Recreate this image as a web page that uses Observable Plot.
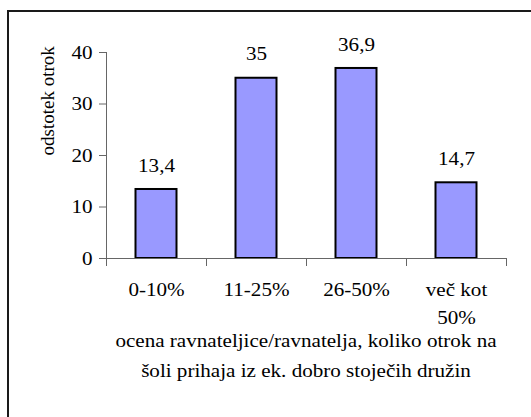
<!DOCTYPE html>
<html><head><meta charset="utf-8">
<script src="https://cdn.jsdelivr.net/npm/d3@7"></script>
<script src="https://cdn.jsdelivr.net/npm/@observablehq/plot@0.6"></script>
<style>
body{margin:0;background:#fff;}
#wrap{position:relative;width:531px;height:417px;overflow:hidden;font-family:'Liberation Serif',serif;}
#chart{position:absolute;left:0;top:0;}
#frame{position:absolute;left:7px;top:10px;width:600px;height:500px;border:2px solid #1a1a1a;box-sizing:border-box;}
#caption{position:absolute;left:56px;width:500px;top:326px;text-align:center;font-family:'Liberation Serif',serif;font-size:19px;line-height:30px;color:#000;transform:scaleX(1.11);transform-origin:250px 0;white-space:nowrap;}
</style></head>
<body><div id="wrap"><div id="chart"></div><div id="caption"></div><div id="frame"></div></div>
<script>
const categories = ["0-10%", "11-25%", "26-50%", "več kot\n50%"];
const values = [13.4, 35, 36.9, 14.7];
const valueLabels = ["13,4", "35", "36,9", "14,7"];
const yTicks = [0, 10, 20, 30, 40];
const yLabel = "odstotek otrok";
const xTitleLines = ["ocena ravnateljice/ravnatelja, koliko otrok na", "šoli prihaja iz ek. dobro stoječih družin"];

const data = categories.map((c, i) => ({i, c, v: values[i], lab: valueLabels[i]}));
const boundaries = d3.range(categories.length + 1);

const chart = Plot.plot({
  width: 531,
  height: 345,
  marginTop: 52,
  marginBottom: 87,
  marginLeft: 106,
  marginRight: 25,
  style: {fontFamily: "'Liberation Serif', serif", fontSize: "19px", color: "#000", background: "transparent"},
  x: {type: "linear", domain: [0, categories.length], axis: null},
  y: {domain: [0, 40], axis: null},
  marks: [
    Plot.rect(data, {x1: "i", x2: d => d.i + 1, y1: () => 0, y2: "v", insetLeft: 29.5, insetRight: 29.5, fill: "#9999ff", stroke: "#000", strokeWidth: 2}),
    Plot.ruleY([0], {stroke: "#666"}),
    Plot.ruleX([0], {stroke: "#666"}),
    Plot.axisY({ticks: yTicks, tickSize: 7, tickPadding: 7, label: null, stroke: "#666", fill: "#000"}),
    Plot.axisX({ticks: boundaries, tickFormat: () => "", tickSize: 8, label: null, stroke: "#666"}),
    Plot.text(data, {x: d => d.i + 0.5, text: "c", frameAnchor: "bottom", lineAnchor: "top", dy: 18, lineHeight: 1.474, fill: "#000"}),
    Plot.text(data, {x: d => d.i + 0.5, y: "v", text: "lab", dy: -24, fill: "#000"}),
    Plot.text([yLabel], {text: d => d, frameAnchor: "left", rotate: -90, dx: -59, fill: "#000", className: "ylab"})
  ]
});
document.getElementById("chart").appendChild(chart);
document.getElementById("caption").innerHTML = xTitleLines.join("<br>");

// the reference's lettering is slightly wider than the font; widen horizontal texts
const SX = 1.11;
chart.querySelectorAll("text").forEach(t => {
  if (t.closest(".ylab")) return;
  const spans = t.querySelectorAll("tspan");
  const targets = spans.length ? [...spans] : [t];
  targets.forEach(el => {
    const L = el.getComputedTextLength();
    if (L > 0) {
      el.setAttribute("textLength", (L * SX).toFixed(2));
      el.setAttribute("lengthAdjust", "spacingAndGlyphs");
    }
  });
});
</script>
</body></html>
